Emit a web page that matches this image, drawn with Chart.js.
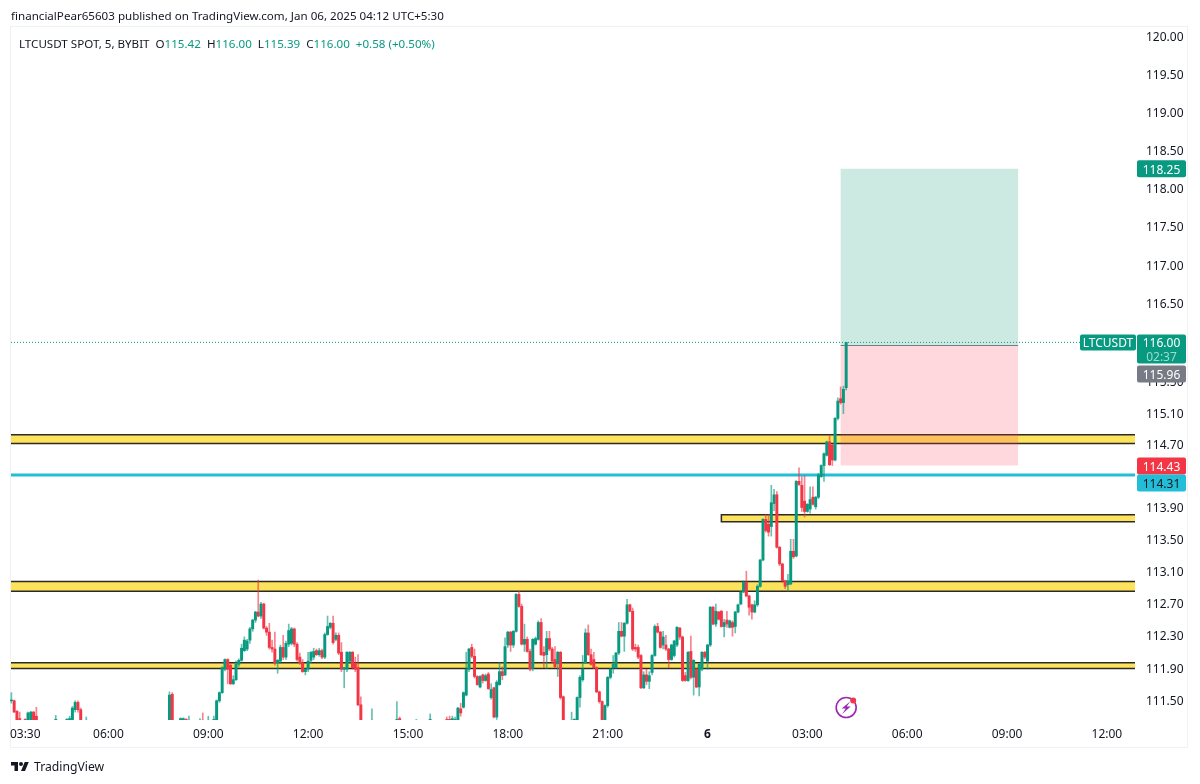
<!DOCTYPE html>
<html>
<head>
<meta charset="utf-8">
<script src="https://cdn.jsdelivr.net/npm/chart.js@4"></script>
<style>
html,body{margin:0;padding:0;background:#fff;width:1200px;height:784px;overflow:hidden}
body{position:relative;font-family:"Noto Sans",sans-serif;color:#131722}
canvas{position:absolute;left:0;top:0}
#panel{position:absolute;left:10px;top:26px;width:1178px;height:722px;border:1px solid #f0f1f4;box-sizing:border-box}
.t{position:absolute;white-space:pre;font-size:11.6px;line-height:16px}
.g{color:#089981}
#logo{position:absolute;left:11px;top:760px}
</style>
</head>
<body>
<div id="panel"></div>
<canvas id="c" width="1200" height="784"></canvas>
<div class="t" style="left:11px;top:8px">financialPear65603 published on TradingView.com, Jan 06, 2025 04:12 UTC+5:30</div>
<div class="t" style="left:19px;top:35.5px">LTCUSDT SPOT, 5, BYBIT  O<span class="g">115.42</span>  H<span class="g">116.00</span>  L<span class="g">115.39</span>  C<span class="g">116.00</span>  <span class="g">+0.58 (+0.50%)</span></div>
<svg id="logo" width="18" height="14" viewBox="0 0 36 28"><path fill="#131722" d="M14 22H7V11H0V4h14v18zM28 22h-8l7.5-18h8L28 22z"/><circle fill="#131722" cx="20" cy="8" r="4"/></svg>
<div class="t" style="left:34px;top:759px;font-size:12.2px">TradingView</div>
<script>
const _ = null;
const skip = n => Array(n).fill(null);

const tickLabels = ["03:30","06:00","09:00","12:00","15:00","18:00","21:00","6","03:00","06:00","09:00","12:00"];
const tickSlots = [5,35,71,107,143,179,215,251,287,323,359,395];
const priceTicks = [111.5,111.9,112.3,112.7,113.1,113.5,113.9,114.7,115.1,115.5,116.5,117,117.5,118,118.5,119,119.5,120];

const opens = [
111.49,111.49,111.36,111.27,_,111.26,111.22,111.25,111.35,111.30,
_,_,_,_,_,_,111.22,_,_,_,
111.22,111.22,111.22,111.38,111.47,111.38,_,111.22,_,_,
...skip(27),111.22,111.57,_,
_,111.22,111.22,111.26,111.22,_,_,_,111.22,111.25,
_,111.22,_,111.22,111.25,111.49,111.59,111.88,112.00,111.93,
111.70,111.75,111.94,111.99,112.11,112.13,112.24,112.38,112.49,112.59,
112.54,112.69,112.39,112.34,112.15,112.13,111.96,111.98,112.15,112.03,
112.19,112.20,112.38,112.19,112.03,111.96,111.85,111.88,111.99,112.03,
112.11,112.06,112.11,112.03,112.31,112.40,112.45,112.25,112.30,112.09,
111.88,111.88,111.98,112.09,111.95,111.90,111.44,_,_,_,
111.22,_,_,_,_,_,_,_,_,111.22,
111.27,_,_,_,_,_,111.22,_,_,_,
_,111.22,_,_,_,_,_,111.26,111.26,111.22,
111.22,111.25,111.39,111.41,111.56,111.88,112.15,112.04,111.79,111.66,
111.81,111.74,111.82,111.53,111.65,111.29,111.69,111.85,111.81,112.18,
112.34,112.18,112.35,112.81,112.66,112.19,112.25,112.10,111.89,112.19,
112.25,112.46,112.09,112.06,112.26,112.13,112.00,111.95,112.09,111.54,
_,_,111.22,111.22,111.25,111.53,111.75,111.96,112.33,112.06,
112.00,111.90,111.60,111.48,111.25,111.43,111.78,111.90,111.90,112.08,
112.35,112.29,112.45,112.68,112.60,112.15,112.15,112.05,111.65,111.81,
111.73,111.84,112.05,112.41,112.34,112.18,112.18,112.13,112.00,112.05,
112.18,112.39,112.28,111.80,111.74,112.10,111.78,111.88,111.66,111.88,
112.09,111.98,112.18,112.65,112.44,112.59,112.60,112.41,112.49,112.40,
112.46,112.41,112.59,112.69,112.84,112.96,112.79,112.68,112.59,112.68,
112.91,113.24,113.75,113.69,113.66,113.95,114.06,113.40,113.19,112.98,
112.93,112.94,113.35,113.29,114.23,114.18,113.98,113.85,113.88,114.03,
113.91,114.03,114.29,114.43,114.56,114.73,114.69,114.50,115.03,115.28,
115.23,115.42];

const highs = [
111.59,111.50,111.37,111.35,_,111.27,111.35,111.36,111.36,111.41,
_,_,_,_,_,_,111.31,_,_,_,
111.27,111.30,111.42,111.49,111.49,111.40,_,111.29,_,_,
...skip(27),111.60,111.59,_,
_,111.28,111.28,111.27,111.30,_,_,_,111.27,111.34,
_,111.30,_,111.30,111.50,111.60,111.91,112.01,112.01,111.95,
111.80,111.98,112.01,112.19,112.28,112.25,112.40,112.50,112.60,112.99,
112.71,112.70,112.41,112.45,112.24,112.34,112.00,112.18,112.30,112.23,
112.44,112.40,112.39,112.21,112.08,112.00,111.89,112.09,112.10,112.14,
112.13,112.14,112.13,112.33,112.54,112.46,112.54,112.33,112.33,112.21,
111.90,112.10,112.10,112.10,112.03,112.06,111.54,_,_,_,
111.39,_,_,_,_,_,_,_,_,111.48,
111.29,_,_,_,_,_,111.26,_,_,_,
_,111.33,_,_,_,_,_,111.29,111.30,111.30,
111.29,111.41,111.46,111.60,112.09,112.14,112.19,112.13,111.80,111.80,
111.82,111.82,111.84,111.70,111.66,111.74,111.96,111.91,112.27,112.35,
112.35,112.36,112.82,112.85,112.69,112.44,112.28,112.13,112.26,112.28,
112.48,112.51,112.16,112.35,112.35,112.15,112.16,112.10,112.10,111.55,
_,_,111.35,111.27,111.54,111.80,112.05,112.38,112.43,112.13,
112.09,111.91,111.61,111.49,111.44,111.79,111.89,112.05,112.09,112.46,
112.46,112.46,112.75,112.69,112.64,112.19,112.18,112.06,111.85,111.88,
111.85,112.06,112.43,112.45,112.35,112.35,112.30,112.14,112.19,112.24,
112.41,112.40,112.29,111.84,112.10,112.29,112.00,111.89,111.95,112.10,
112.10,112.19,112.66,112.66,112.69,112.60,112.61,112.50,112.60,112.49,
112.48,112.60,112.69,112.85,112.98,113.10,112.80,112.69,112.73,112.93,
113.25,113.76,113.81,113.81,114.18,114.13,114.10,113.41,113.20,112.99,
113.06,113.50,113.50,114.24,114.40,114.29,114.30,113.95,114.16,114.16,
114.04,114.33,114.44,114.59,114.74,114.81,114.70,115.04,115.29,115.43,
115.44,116.00];

const lows = [
111.46,111.35,111.22,111.22,_,111.22,111.22,111.22,111.22,111.22,
_,_,_,_,_,_,111.22,_,_,_,
111.22,111.22,111.22,111.35,111.35,111.22,_,111.22,_,_,
...skip(27),111.22,111.22,_,
_,111.22,111.22,111.22,111.22,_,_,_,111.22,111.22,
_,111.22,_,111.22,111.22,111.47,111.58,111.86,111.70,111.69,
111.69,111.74,111.91,111.98,112.10,112.11,112.20,112.35,112.46,112.53,
112.51,112.38,112.30,112.13,112.09,111.93,111.83,111.95,112.00,112.00,
112.16,112.18,112.16,111.98,111.94,111.84,111.81,111.85,111.96,112.00,
112.05,112.04,112.01,112.01,112.30,112.38,112.19,112.23,112.06,111.85,
111.65,111.85,111.95,111.88,111.85,111.43,111.22,_,_,_,
111.22,_,_,_,_,_,_,_,_,111.22,
111.22,_,_,_,_,_,111.22,_,_,_,
_,111.22,_,_,_,_,_,111.22,111.22,111.22,
111.22,111.22,111.30,111.40,111.55,111.85,112.02,111.77,111.68,111.65,
111.71,111.73,111.63,111.51,111.28,111.26,111.68,111.75,111.80,112.15,
112.10,112.15,112.34,112.65,112.18,112.10,112.09,111.86,111.86,112.18,
112.24,112.05,111.90,111.89,112.11,111.96,111.90,111.79,111.51,111.22,
_,_,111.22,111.22,111.22,111.41,111.73,111.95,112.05,111.93,
111.89,111.59,111.46,111.22,111.22,111.41,111.76,111.83,111.89,112.06,
112.28,112.10,112.44,112.59,112.11,112.10,112.01,111.64,111.64,111.69,
111.64,111.81,112.04,112.33,112.14,112.13,112.11,111.90,111.99,112.03,
112.16,112.25,111.73,111.73,111.73,111.76,111.56,111.65,111.55,111.86,
112.01,111.88,112.16,112.43,112.41,112.49,112.40,112.28,112.40,112.39,
112.29,112.33,112.58,112.68,112.83,112.78,112.55,112.50,112.58,112.66,
112.90,113.23,113.59,113.54,113.54,113.86,113.39,113.17,112.96,112.88,
112.85,112.93,113.26,113.28,114.18,113.85,113.78,113.84,113.83,113.93,
113.88,114.01,114.28,114.23,114.55,114.43,114.43,114.49,115.01,115.21,
115.09,115.39];

const closes = [
111.50,111.35,111.22,111.22,_,111.22,111.34,111.35,111.22,111.22,
_,_,_,_,_,_,111.26,_,_,_,
111.26,111.27,111.40,111.47,111.38,111.24,_,111.25,_,_,
...skip(27),111.56,111.22,_,
_,111.27,111.27,111.22,111.25,_,_,_,111.25,111.22,
_,111.25,_,111.26,111.49,111.59,111.90,112.00,111.88,111.70,
111.75,111.94,111.99,112.14,112.24,112.23,112.38,112.49,112.59,112.54,
112.69,112.39,112.34,112.15,112.13,111.96,111.99,112.15,112.03,112.20,
112.36,112.38,112.19,112.00,111.96,111.85,111.88,111.98,112.09,112.10,
112.06,112.11,112.03,112.31,112.41,112.45,112.21,112.30,112.08,111.88,
111.90,112.09,112.09,111.90,111.88,111.44,111.25,_,_,_,
111.25,_,_,_,_,_,_,_,_,111.26,
111.22,_,_,_,_,_,111.25,_,_,_,
_,111.26,_,_,_,_,_,111.22,111.22,111.27,
111.26,111.40,111.34,111.59,111.88,112.13,112.04,111.79,111.69,111.79,
111.74,111.80,111.64,111.63,111.29,111.72,111.85,111.80,112.16,112.34,
112.18,112.35,112.81,112.66,112.19,112.25,112.10,111.88,112.25,112.26,
112.46,112.06,112.05,112.26,112.13,111.98,111.91,112.09,111.53,111.25,
_,_,111.25,111.26,111.53,111.78,111.88,112.33,112.06,111.94,
111.90,111.60,111.48,111.25,111.43,111.78,111.88,111.94,112.08,112.35,
112.29,112.45,112.68,112.60,112.13,112.13,112.03,111.65,111.81,111.73,
111.80,112.05,112.41,112.34,112.15,112.28,112.13,112.00,112.18,112.23,
112.40,112.28,111.74,111.74,112.09,111.78,111.99,111.66,111.94,112.09,
112.03,112.18,112.65,112.44,112.60,112.50,112.41,112.46,112.44,112.48,
112.40,112.59,112.68,112.84,112.96,112.79,112.65,112.59,112.68,112.91,
113.24,113.75,113.61,113.59,113.96,114.06,113.40,113.19,112.98,112.91,
112.98,113.35,113.28,114.23,114.19,113.90,113.85,113.94,114.00,113.94,
114.03,114.31,114.43,114.58,114.73,114.44,114.50,115.03,115.25,115.23,
115.40,116.00];

// horizontal supply / demand zones: [startSlot, low, high]
const zones = [[0,114.71,114.82],[256,113.72,113.81],[0,112.85,112.97],[0,111.89,111.96]];
const cyanLevel = 114.31;
const lastPrice = 116.00;
const entryPrice = 115.96;
const targetPrice = 118.25;
const stopPrice = 114.43;
const positionSlots = [299,363];
const alertMark = [301,111.40];

const UP="#089981", DOWN="#f23645", UPW="rgba(8,153,129,.62)", DOWNW="rgba(242,54,69,.62)";
const FONT='"Noto Sans",sans-serif';
const SLOTS=406;
const categories = Array.from({length:SLOTS},(_,i)=>{
  const m=(3*60+5+i*5)%1440; 
  return m===0?"6":String(Math.floor(m/60)).padStart(2,"0")+":"+String(m%60).padStart(2,"0");
});
const isUp = opens.map((o,i)=>o===null?false:closes[i]>=o);

const overlay = {
  id:"overlay",
  beforeDatasetsDraw(chart){
    const {ctx,chartArea:a,scales:{x,y}}=chart;
    ctx.save();
    // zones
    for(const [s,lo,hi] of zones){
      const l = s===0? a.left+1 : x.getPixelForValue(s);
      const r = a.right-1, t=y.getPixelForValue(hi), b=y.getPixelForValue(lo);
      ctx.fillStyle="#fde35c"; ctx.fillRect(l,t,r-l,b-t);
      ctx.strokeStyle="#2b2a24"; ctx.lineWidth=1.5;
      ctx.beginPath(); ctx.moveTo(r,t); ctx.lineTo(l,t);
      if(s!==0){ctx.lineTo(l,b);} else {ctx.moveTo(l,b);}
      ctx.lineTo(r,b); ctx.stroke();
    }
    // position tool
    const l=x.getPixelForValue(positionSlots[0]), r=x.getPixelForValue(positionSlots[1]);
    const yT=y.getPixelForValue(targetPrice), yE=y.getPixelForValue(entryPrice), yS=y.getPixelForValue(stopPrice);
    ctx.fillStyle="rgba(0,150,110,.2)"; ctx.fillRect(l,yT,r-l,yE-yT);
    ctx.fillStyle="rgba(255,60,90,.2)"; ctx.fillRect(l,yE,r-l,yS-yE);
    ctx.strokeStyle="#787b86"; ctx.lineWidth=1; ctx.beginPath(); ctx.moveTo(l,yE); ctx.lineTo(r,yE); ctx.stroke();
    // cyan line
    const yC=y.getPixelForValue(cyanLevel);
    ctx.strokeStyle="#22bdd6"; ctx.lineWidth=3; ctx.beginPath(); ctx.moveTo(a.left+1,yC); ctx.lineTo(a.right-1,yC); ctx.stroke();
    // last price dotted
    const yL=y.getPixelForValue(lastPrice);
    ctx.strokeStyle=UP; ctx.lineWidth=1; ctx.setLineDash([1,2]); ctx.beginPath(); ctx.moveTo(a.left+1,yL); ctx.lineTo(a.right-1,yL); ctx.stroke();
    ctx.restore();
  },
  afterDraw(chart){
    const {ctx,scales:{x,y}}=chart;
    const box=(x0,y0,w,h,fill,rad=2)=>{ctx.fillStyle=fill;ctx.beginPath();ctx.roundRect(x0,y0,w,h,rad);ctx.fill();};
    const txt=(s,cx,cy,col,align="center")=>{ctx.fillStyle=col;ctx.textAlign=align;ctx.textBaseline="middle";ctx.fillText(s,cx,cy+1.5);};
    ctx.save();
    ctx.font='12px '+FONT;
    const X=1137,W=49,C=1161.5;
    const pT=y.getPixelForValue(targetPrice);
    box(X,pT-8.5,W,17,UP); txt(targetPrice.toFixed(2),C,pT,"#fff");
    const pL=y.getPixelForValue(lastPrice);
    box(X,pL-8,W,29,UP); txt(lastPrice.toFixed(2),C,pL,"#fff");
    ctx.font='12px '+FONT; txt("02:37",C,pL+13.5,"#9fdccf");
    box(1080,pL-8,56,16,UP); txt("LTCUSDT",1108,pL,"#fff");
    box(X,pL+23,W,17,"#787b86"); txt(entryPrice.toFixed(2),C,pL+31.5,"#fff");
    const pS=y.getPixelForValue(stopPrice);
    box(X,pS-8,W,17,DOWN); txt(stopPrice.toFixed(2),C,pS+0.5,"#fff");
    box(X,pS+9,W,17,"#22bdd6"); txt(cyanLevel.toFixed(2),C,pS+17.5,"#131722");
    // alert marker
    const mx=x.getPixelForValue(alertMark[0]), my=y.getPixelForValue(alertMark[1])-0.5;
    ctx.strokeStyle="#9c27b0"; ctx.lineWidth=1.6; ctx.beginPath(); ctx.arc(mx,my,10,0,Math.PI*2); ctx.stroke();
    ctx.fillStyle="#9c27b0"; ctx.beginPath();
    ctx.moveTo(mx+4,my-6); ctx.lineTo(mx-4.5,my+1); ctx.lineTo(mx-0.5,my+1); ctx.lineTo(mx-4,my+6.5); ctx.lineTo(mx+4.5,my-1); ctx.lineTo(mx+0.5,my-1); ctx.closePath(); ctx.fill();
    ctx.fillStyle="#f23645"; ctx.beginPath(); ctx.arc(mx+7,my-7,3,0,Math.PI*2); ctx.fill();
    ctx.restore();
  }
};

new Chart(document.getElementById("c"),{
  type:"bar",
  plugins:[overlay],
  data:{
    labels:categories,
    datasets:[
      {label:"wick",data:lows.map((l,i)=>l===null?null:[l,highs[i]]),barThickness:1,grouped:false,order:2,
       backgroundColor:isUp.map(u=>u?UPW:DOWNW),borderWidth:0},
      {label:"body",data:opens.map((o,i)=>o===null?null:[o,closes[i]]),barThickness:2.3,grouped:false,order:1,
       backgroundColor:isUp.map(u=>u?UP:DOWN),borderWidth:0}
    ]
  },
  options:{
    responsive:false,animation:false,devicePixelRatio:1,
    layout:{autoPadding:false,padding:{left:10,right:12,top:26,bottom:44}},
    plugins:{legend:{display:false},tooltip:{enabled:false},title:{display:false}},
    scales:{
      x:{type:"category",offset:true,
        grid:{display:false,drawTicks:false},border:{display:false},
        afterBuildTicks:s=>{s.ticks=tickSlots.map(v=>({value:v}));},
        afterFit:s=>{s.height=20;},
        ticks:{autoSkip:false,maxRotation:0,minRotation:0,padding:7,color:"#131722",
          font:c=>({family:FONT,size:12,weight:(c.tick&&c.tick.label==="6")?"bold":"normal"})}
      },
      y:{type:"logarithmic",position:"right",min:111.253,max:120.133,
        grid:{display:false,drawTicks:false},border:{display:false},
        afterBuildTicks:s=>{s.ticks=priceTicks.map(v=>({value:v}));},
        afterFit:s=>{s.width=52;},
        ticks:{autoSkip:false,padding:10,labelOffset:1.5,color:"#131722",font:{family:FONT,size:12},
          callback:v=>Number(v).toFixed(2)}
      }
    }
  }
});
</script>
</body>
</html>
